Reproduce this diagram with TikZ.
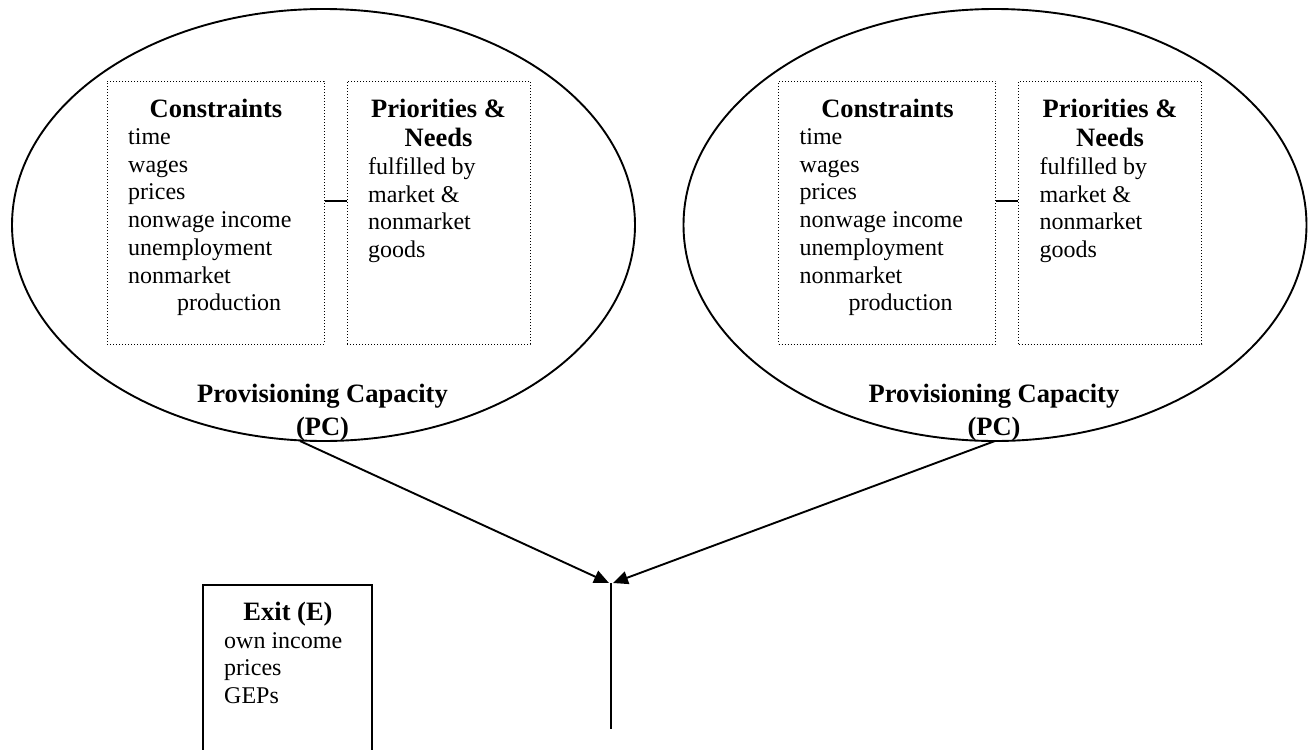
\documentclass[tikz,border=0pt]{standalone}
\usepackage{fontspec}
\setmainfont{Liberation Serif}
\usetikzlibrary{shapes.geometric,arrows.meta}
\tikzset{
  ell/.style={draw, ellipse, line width=1.9pt, inner sep=0pt, minimum width=623pt, minimum height=432pt},
  dotbox/.style={draw, rectangle, dotted, line width=1pt, inner sep=0pt, minimum height=263pt},
  solidbox/.style={draw, rectangle, line width=1.9pt, inner sep=0pt},
  txt/.style={inner sep=0pt, anchor=base west, font=\fontsize{24}{28}\selectfont},
  head/.style={inner sep=0pt, anchor=base, font=\fontsize{26.5}{30}\selectfont\bfseries},
  link/.style={line width=1.9pt},
  arr/.style={line width=1.9pt, -{Triangle[length=15pt,width=13pt]}}
}
\begin{document}
\begin{tikzpicture}[x=1pt, y=-1pt]
\useasboundingbox (0,0) rectangle (1310,750);
\foreach \p/\dx in {L/0, R/671.5} {
  \begin{scope}[xshift=\dx pt]
    \node[ell] (\p-ell) at (323.5,225) {};
    \node[dotbox, minimum width=217pt] (\p-con) at (215.5,212.5) {};
    \node[dotbox, minimum width=183pt] (\p-pri) at (438.5,212.5) {};
    \draw[link] ([yshift=11.5pt]\p-con.east) -- ([yshift=11.5pt]\p-pri.west);
    \node[head] (\p-conh) at (216,117) {Constraints};
    \node[txt] (\p-c1) at (128,144) {time};
    \node[txt] (\p-c2) at (128,172) {wages};
    \node[txt] (\p-c3) at (128,199) {prices};
    \node[txt] (\p-c4) at (128,227) {nonwage income};
    \node[txt] (\p-c5) at (128,255) {unemployment};
    \node[txt] (\p-c6) at (128,283) {nonmarket};
    \node[txt] (\p-c7) at (177,310) {production};
    \node[head] (\p-prih1) at (438.5,117) {Priorities \&};
    \node[head] (\p-prih2) at (438.5,146) {Needs};
    \node[txt] (\p-p1) at (368,174) {fulfilled by};
    \node[txt] (\p-p2) at (368,202) {market \&};
    \node[txt] (\p-p3) at (368,229) {nonmarket};
    \node[txt] (\p-p4) at (368,257) {goods};
    \node[head] (\p-pc1) at (322.5,402) {Provisioning Capacity};
    \node[head] (\p-pc2) at (322.5,435) {(PC)};
  \end{scope}
}
\coordinate (Lstart) at (300,441);
\coordinate (Rstart) at (995,441);
\coordinate (Lend) at (609,583);
\coordinate (Rend) at (613,583);
\coordinate (junction) at (611,583);
\coordinate (stem) at (611,729);
\draw[arr] (Lstart) -- (Lend);
\draw[arr] (Rstart) -- (Rend);
\draw[link] (junction) -- (stem);
\node[solidbox, minimum width=169pt, minimum height=175pt] (exit) at (287.5,672.5) {};
\node[head] (exith) at (288,620) {Exit (E)};
\node[txt] (e1) at (224,648) {own income};
\node[txt] (e2) at (224,675) {prices};
\node[txt] (e3) at (224,703) {GEPs};
\end{tikzpicture}
\end{document}
